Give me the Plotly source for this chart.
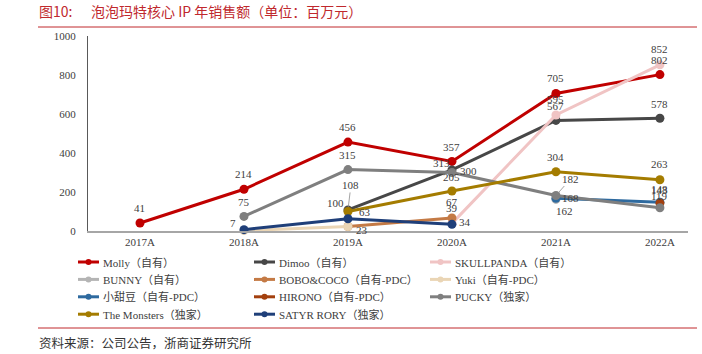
import plotly.graph_objects as go

# ---------------- data ----------------
years = ["2017A", "2018A", "2019A", "2020A", "2021A", "2022A"]

molly = [41, 214, 456, 357, 705, 802]
dimoo = [None, None, 108, 313, 567, 578]
skullpanda = [None, None, None, 39, 595, 852]
bunny = [None, None, None, None, 162, None]
bobo = [None, None, 23, 67, None, None]
yuki = [None, 2, 23, None, None, None]
xiaotiandou = [None, None, None, None, 168, 148]
hirono = [None, None, None, None, None, 143]
pucky = [None, 75, 315, 300, 182, 119]
monsters = [None, None, 100, 205, 304, 263]
satyr = [None, 7, 63, 34, None, None]

names = ["Molly（自有）", "Dimoo（自有）", "SKULLPANDA（自有）",
         "BUNNY（自有）", "BOBO&COCO（自有-PDC）", "Yuki（自有-PDC）",
         "小甜豆（自有-PDC）", "HIRONO（自有-PDC）", "PUCKY（独家）",
         "The Monsters（独家）", "SATYR RORY（独家）"]
series = [molly, dimoo, skullpanda, bunny, bobo, yuki,
          xiaotiandou, hirono, pucky, monsters, satyr]
colors = ["#C00000", "#474747", "#F0C4C4", "#B4B4B4", "#C47A45", "#EAD5B5",
          "#2E6A9F", "#A3400E", "#7F7F7F", "#A47C00", "#1F3F79"]

# which points carry a label (series index -> year indexes), with pixel offsets
label_pts = {
    0: {0: (0, 15), 1: (0, 15), 2: (0, 15), 3: (0, 14), 4: (0, 16), 5: (0, 15)},
    1: {2: (0, 0), 3: (-10, 7), 4: (0, 14), 5: (0, 14)},
    2: {3: (0, 15), 4: (0, 16), 5: (0, 16)},
    3: {4: (9, -12)},
    4: {3: (0, 16)},
    5: {2: (14, -3)},
    6: {4: (15, 0), 5: (0, 13)},
    7: {5: (0, 13)},
    8: {1: (0, 14), 2: (0, 15), 3: (17, 2), 4: (0, 0), 5: (0, 12)},
    9: {2: (-12, 9), 3: (0, 14), 4: (0, 15), 5: (0, 16)},
    10: {1: (-11, 7), 2: (17, 7), 3: (13, 2)},
}
leader_pts = {(1, 2): (3, -25), (8, 4): (15, -17)}

# ---------------- geometry helpers ----------------
W, H = 702, 354
L, R, T, B = 88, 14, 36, 123
PW, PH = W - L - R, H - T - B


def px(x):
    return (x - L) / PW


def py(y):
    return (H - B - y) / PH


SERIF = "Liberation Serif, Noto Sans CJK SC"
CJK = "Noto Sans CJK SC"
TXT = "#404040"
RED = "#C0282D"

fig = go.Figure()
for nm, vals, c in zip(names, series, colors):
    fig.add_trace(go.Scatter(
        x=years, y=vals, name=nm, mode="lines+markers",
        line=dict(color=c, width=3), marker=dict(color=c, size=9),
        connectgaps=False, showlegend=False, cliponaxis=False))

annotations = []
for si, pts in label_pts.items():
    for yi, (dx, dy) in pts.items():
        v = series[si][yi]
        if (si, yi) in leader_pts:
            ax, ay = leader_pts[(si, yi)]
            annotations.append(dict(
                x=years[yi], y=v, xref="x", yref="y", text=str(v),
                showarrow=True, arrowhead=0, arrowwidth=0.8, arrowcolor="#8c8c8c",
                ax=ax, ay=ay, standoff=3,
                font=dict(family=SERIF, size=11, color=TXT)))
        else:
            annotations.append(dict(
                x=years[yi], y=v, xref="x", yref="y", text=str(v),
                showarrow=False, xshift=dx, yshift=dy,
                font=dict(family=SERIF, size=11, color=TXT)))

shapes = []
# manual legend
for i, (nm, c) in enumerate(zip(names, colors)):
    row, col = divmod(i, 3)
    x0 = 78 + col * 176
    yy = 262 + row * 17.4
    shapes.append(dict(type="line", xref="paper", yref="paper",
                       x0=px(x0), x1=px(x0 + 21), y0=py(yy), y1=py(yy),
                       line=dict(color=c, width=3)))
    shapes.append(dict(type="circle", xref="paper", yref="paper",
                       x0=px(x0 + 7.5), x1=px(x0 + 13.5),
                       y0=py(yy + 3), y1=py(yy - 3),
                       fillcolor=c, line=dict(color=c, width=0)))
    annotations.append(dict(x=px(x0 + 23), y=py(yy), xref="paper", yref="paper",
                            xanchor="left", yanchor="middle", showarrow=False,
                            text=nm, font=dict(family=SERIF, size=11, color=TXT)))

# title, rules, source
shapes.append(dict(type="line", xref="paper", yref="paper",
                   x0=px(38), x1=px(697), y0=py(27), y1=py(27),
                   line=dict(color=RED, width=1)))
shapes.append(dict(type="line", xref="paper", yref="paper",
                   x0=px(38), x1=px(697), y0=py(328), y1=py(328),
                   line=dict(color=RED, width=1)))
annotations.append(dict(x=px(37), y=py(11), xref="paper", yref="paper",
                        xanchor="left", yanchor="middle", showarrow=False,
                        text="图10:", font=dict(family=CJK, size=14, color=RED)))
annotations.append(dict(x=px(89), y=py(11), xref="paper", yref="paper",
                        xanchor="left", yanchor="middle", showarrow=False,
                        text="泡泡玛特核心 IP 年销售额（单位：百万元）",
                        font=dict(family=CJK, size=14, color=RED)))
annotations.append(dict(x=px(37), y=py(354), xref="paper", yref="paper",
                        xanchor="left", yanchor="bottom", showarrow=False,
                        text="资料来源：公司公告，浙商证券研究所",
                        font=dict(family=CJK, size=12.5, color="#333333")))

fig.update_layout(
    width=W, height=H, margin=dict(l=L, r=R, t=T, b=B, pad=0),
    paper_bgcolor="white", plot_bgcolor="white",
    showlegend=False, annotations=annotations, shapes=shapes,
    xaxis=dict(type="category", categoryorder="array", categoryarray=years,
               range=[-0.5, 5.27], showgrid=False, zeroline=False,
               showline=True, linecolor="#A6A6A6", linewidth=2,
               ticks="", tickfont=dict(family=SERIF, size=11, color=TXT)),
    yaxis=dict(range=[0, 1000], tickvals=[0, 200, 400, 600, 800, 1000],
               showgrid=False, zeroline=False, showline=True,
               linecolor="#595959", linewidth=1, ticks="",
               ticklabelstandoff=9,
               tickfont=dict(family=SERIF, size=11, color=TXT)),
)

fig.write_html("out.html")
